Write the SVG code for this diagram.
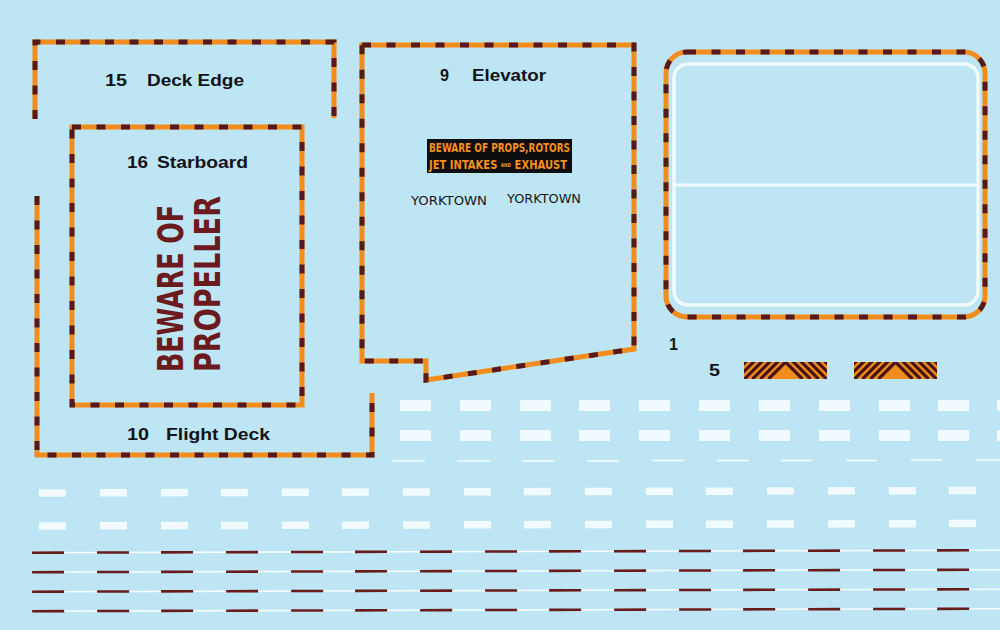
<svg xmlns="http://www.w3.org/2000/svg" width="1000" height="630" viewBox="0 0 1000 630">
<style>
.base{fill:none;stroke:#f28c1c;stroke-width:5;stroke-linejoin:miter}
.dash{fill:none;stroke:#571a1c;stroke-width:5;stroke-dasharray:9 15.5}
.lbl{font-family:"Liberation Sans",Arial,sans-serif;font-weight:bold;font-size:17px;fill:#121418}
.wr{fill:#f1fbff}
.wl{stroke:#f4fcff;stroke-width:1.6}
.dl{stroke:#6a1b1c;stroke-width:2.6}
.york{font-family:"DejaVu Sans","Liberation Sans",sans-serif;font-size:12.5px;fill:#15171c}
.warn{font-family:"Liberation Sans Narrow","DejaVu Sans Condensed","Liberation Sans",sans-serif;font-weight:bold;font-size:13px;fill:#f5901f}
.prop{font-family:"Liberation Sans Narrow","DejaVu Sans Condensed","Liberation Sans",sans-serif;font-weight:bold;font-size:36px;fill:#6b1a1d}
</style>
<defs>
<clipPath id="barclip"><rect x="0" y="0" width="83" height="17"/></clipPath>
<g id="chev">
<rect x="0" y="0" width="83" height="17" fill="#f28c1c"/>
<g clip-path="url(#barclip)" fill="none" stroke="#4a1414" stroke-width="3.3">
<polyline points="24.5,17 41.5,0 58.5,17"/>
<polyline points="16.5,17 41.5,-8 66.5,17"/>
<polyline points="8.5,17 41.5,-16 74.5,17"/>
<polyline points="0.5,17 41.5,-24 82.5,17"/>
<polyline points="-7.5,17 41.5,-32 90.5,17"/>
<polyline points="-15.5,17 41.5,-40 98.5,17"/>
</g>
</g>
</defs>
<rect width="1000" height="630" fill="#bde5f3"/>

<g id="deck-edge">
<path class="base" d="M35,119 V42 H334 V118"/>
<path class="dash" d="M35,119 V42 H334 V118"/>
<text class="lbl" x="105" y="86" textLength="22" lengthAdjust="spacingAndGlyphs">15</text>
<text class="lbl" x="147" y="86" textLength="97" lengthAdjust="spacingAndGlyphs">Deck Edge</text>
</g>

<g id="starboard">
<rect class="base" x="72" y="127" width="230" height="278"/>
<rect class="dash" x="72" y="127" width="230" height="278"/>
<text class="lbl" x="127" y="168" textLength="21" lengthAdjust="spacingAndGlyphs">16</text>
<text class="lbl" x="157" y="168" textLength="91" lengthAdjust="spacingAndGlyphs">Starboard</text>
<text class="prop" transform="translate(183,372) rotate(-90)" x="0" y="0" textLength="167" lengthAdjust="spacingAndGlyphs">BEWARE OF</text>
<text class="prop" transform="translate(220,372) rotate(-90)" x="0" y="0" textLength="176" lengthAdjust="spacingAndGlyphs">PROPELLER</text>
</g>

<g id="flight-deck">
<path class="base" d="M37,196 V455 H372 V393"/>
<path class="dash" d="M37,196 V455 H372 V393"/>
<text class="lbl" x="127" y="440" textLength="22" lengthAdjust="spacingAndGlyphs">10</text>
<text class="lbl" x="166" y="440" textLength="104" lengthAdjust="spacingAndGlyphs">Flight Deck</text>
</g>

<g id="elevator">
<polygon class="base" points="362,45 634,45 634,349 426,380 426,361 362,361"/>
<polygon class="dash" points="362,45 634,45 634,349 426,380 426,361 362,361"/>
<text class="lbl" x="440" y="81" textLength="9" lengthAdjust="spacingAndGlyphs">9</text>
<text class="lbl" x="472" y="81" textLength="74" lengthAdjust="spacingAndGlyphs">Elevator</text>
<rect x="427" y="139" width="145" height="34" fill="#0e0e10"/>
<text class="warn" x="429" y="152" textLength="141" lengthAdjust="spacingAndGlyphs">BEWARE OF PROPS,ROTORS</text>
<text class="warn" x="429" y="168.5" textLength="138" lengthAdjust="spacingAndGlyphs">JET INTAKES <tspan font-size="5.5" dy="-1.5">AND</tspan> <tspan dy="1.5">EXHAUST</tspan></text>
<text class="york" x="411" y="205" textLength="76" lengthAdjust="spacingAndGlyphs">YORKTOWN</text>
<text class="york" x="507" y="202.5" textLength="74" lengthAdjust="spacingAndGlyphs">YORKTOWN</text>
</g>

<g id="box-1">
<rect class="base" x="666" y="52" width="319" height="265" rx="21"/>
<rect class="dash" x="666" y="52" width="319" height="265" rx="21"/>
<rect x="674" y="64" width="304" height="241" rx="14" fill="none" stroke="#f1fbff" stroke-width="3.5"/>
<line x1="674" y1="185" x2="978" y2="185" stroke="#f1fbff" stroke-width="3"/>
<text class="lbl" x="669" y="350" textLength="9" lengthAdjust="spacingAndGlyphs">1</text>
</g>

<g id="hazard-5">
<text class="lbl" x="709" y="376" textLength="11" lengthAdjust="spacingAndGlyphs">5</text>
<use href="#chev" x="744" y="362"/>
<use href="#chev" x="854" y="362"/>
</g>

<g id="white-bars-upper">
<g class="wr">
<rect x="400" y="400" width="31" height="11"/><rect x="460" y="400" width="31" height="11"/><rect x="520" y="400" width="31" height="11"/><rect x="579" y="400" width="31" height="11"/><rect x="639" y="400" width="31" height="11"/><rect x="699" y="400" width="31" height="11"/><rect x="759" y="400" width="31" height="11"/><rect x="819" y="400" width="31" height="11"/><rect x="879" y="400" width="31" height="11"/><rect x="938" y="400" width="31" height="11"/><rect x="997" y="400" width="31" height="11"/>
<rect x="400" y="430" width="31" height="11"/><rect x="460" y="430" width="31" height="11"/><rect x="520" y="430" width="31" height="11"/><rect x="579" y="430" width="31" height="11"/><rect x="639" y="430" width="31" height="11"/><rect x="699" y="430" width="31" height="11"/><rect x="759" y="430" width="31" height="11"/><rect x="819" y="430" width="31" height="11"/><rect x="879" y="430" width="31" height="11"/><rect x="938" y="430" width="31" height="11"/><rect x="997" y="430" width="31" height="11"/>
</g>
<g class="wl">
<line x1="392" y1="461" x2="425" y2="461"/><line x1="457" y1="461" x2="490" y2="461"/><line x1="522" y1="461" x2="554" y2="461"/><line x1="587" y1="461" x2="619" y2="461"/><line x1="652" y1="460.5" x2="684" y2="460.5"/><line x1="717" y1="460.5" x2="749" y2="460.5"/><line x1="781" y1="460.5" x2="812" y2="460.5"/><line x1="846" y1="460.5" x2="877" y2="460.5"/><line x1="911" y1="460" x2="942" y2="460"/><line x1="976" y1="460" x2="1000" y2="460"/>
</g>
</g>

<g id="stripes-lower" transform="rotate(-0.15 500 550)">
<g class="wr">
<rect x="39" y="488" width="27" height="7.5"/><rect x="100" y="488" width="27" height="7.5"/><rect x="161" y="488" width="27" height="7.5"/><rect x="221" y="488" width="27" height="7.5"/><rect x="282" y="488" width="27" height="7.5"/><rect x="342" y="488" width="27" height="7.5"/><rect x="403" y="488" width="27" height="7.5"/><rect x="464" y="488" width="27" height="7.5"/><rect x="524" y="488" width="27" height="7.5"/><rect x="585" y="488" width="27" height="7.5"/><rect x="646" y="488" width="27" height="7.5"/><rect x="706" y="488" width="27" height="7.5"/><rect x="767" y="488" width="27" height="7.5"/><rect x="828" y="488" width="27" height="7.5"/><rect x="889" y="488" width="27" height="7.5"/><rect x="949" y="488" width="27" height="7.5"/>
<rect x="39" y="521" width="27" height="7.5"/><rect x="100" y="521" width="27" height="7.5"/><rect x="161" y="521" width="27" height="7.5"/><rect x="221" y="521" width="27" height="7.5"/><rect x="282" y="521" width="27" height="7.5"/><rect x="342" y="521" width="27" height="7.5"/><rect x="403" y="521" width="27" height="7.5"/><rect x="464" y="521" width="27" height="7.5"/><rect x="524" y="521" width="27" height="7.5"/><rect x="585" y="521" width="27" height="7.5"/><rect x="646" y="521" width="27" height="7.5"/><rect x="706" y="521" width="27" height="7.5"/><rect x="767" y="521" width="27" height="7.5"/><rect x="828" y="521" width="27" height="7.5"/><rect x="889" y="521" width="27" height="7.5"/><rect x="949" y="521" width="27" height="7.5"/>
</g>
<g class="wl">
<line x1="32" y1="551.5" x2="1000" y2="551.5"/><line x1="32" y1="571" x2="1000" y2="571"/><line x1="32" y1="590.5" x2="1000" y2="590.5"/><line x1="32" y1="610" x2="1000" y2="610"/>
</g>
<g class="dl">
<path d="M32,551.5h32M97,551.5h32M161,551.5h32M226,551.5h32M291,551.5h32M355,551.5h32M420,551.5h32M485,551.5h32M549,551.5h32M614,551.5h32M679,551.5h32M743,551.5h32M808,551.5h32M873,551.5h32M937,551.5h32"/>
<path d="M32,571h32M97,571h32M161,571h32M226,571h32M291,571h32M355,571h32M420,571h32M485,571h32M549,571h32M614,571h32M679,571h32M743,571h32M808,571h32M873,571h32M937,571h32"/>
<path d="M32,590.5h32M97,590.5h32M161,590.5h32M226,590.5h32M291,590.5h32M355,590.5h32M420,590.5h32M485,590.5h32M549,590.5h32M614,590.5h32M679,590.5h32M743,590.5h32M808,590.5h32M873,590.5h32M937,590.5h32"/>
<path d="M32,610h32M97,610h32M161,610h32M226,610h32M291,610h32M355,610h32M420,610h32M485,610h32M549,610h32M614,610h32M679,610h32M743,610h32M808,610h32M873,610h32M937,610h32"/>
</g>
</g>
</svg>
